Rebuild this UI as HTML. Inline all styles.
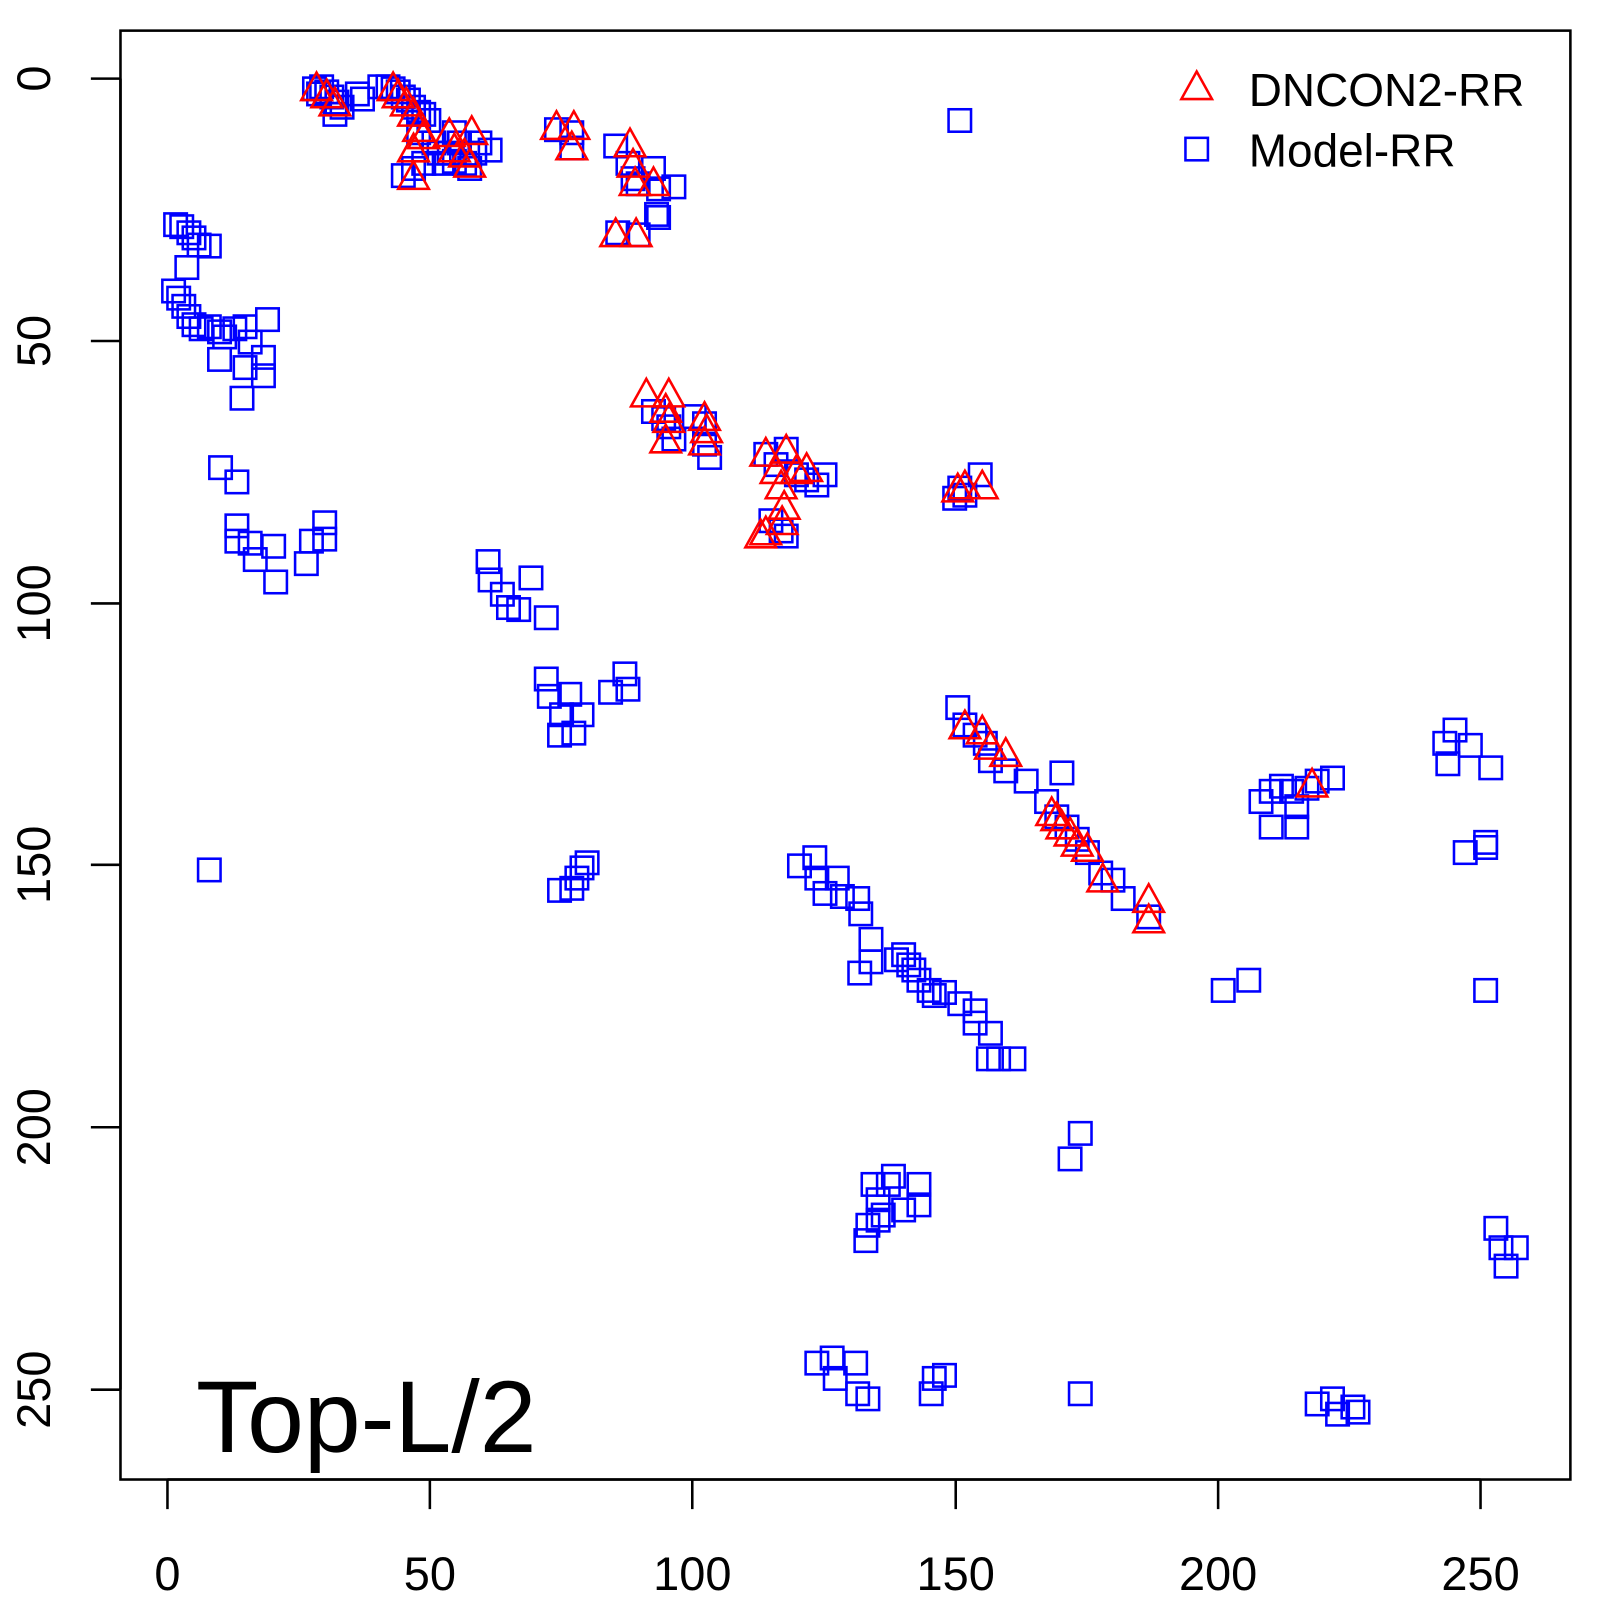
<!DOCTYPE html>
<html><head><meta charset="utf-8"><style>html,body{margin:0;padding:0;background:#fff}svg{display:block}</style></head>
<body>
<svg id="s" width="1600" height="1600" viewBox="0 0 1567 1567" xmlns="http://www.w3.org/2000/svg" font-family="Liberation Sans, sans-serif">
<rect x="118" y="30" width="1420" height="1419" fill="none" stroke="#000" stroke-width="2.5"/>
<g stroke="#000" stroke-width="2.5">
<line x1="164" y1="1449" x2="1450" y2="1449"/>
<line x1="164" y1="1449" x2="164" y2="1478"/><line x1="421" y1="1449" x2="421" y2="1478"/><line x1="678" y1="1449" x2="678" y2="1478"/><line x1="936" y1="1449" x2="936" y2="1478"/><line x1="1193" y1="1449" x2="1193" y2="1478"/><line x1="1450" y1="1449" x2="1450" y2="1478"/>
<line x1="118" y1="77" x2="118" y2="1361"/>
<line x1="118" y1="77" x2="89" y2="77"/><line x1="118" y1="334" x2="89" y2="334"/><line x1="118" y1="591" x2="89" y2="591"/><line x1="118" y1="847" x2="89" y2="847"/><line x1="118" y1="1104" x2="89" y2="1104"/><line x1="118" y1="1361" x2="89" y2="1361"/>
</g>
<g font-size="46" text-anchor="middle" fill="#000">
<text x="164" y="1557">0</text><text x="421" y="1557">50</text><text x="678" y="1557">100</text><text x="936" y="1557">150</text><text x="1193" y="1557">200</text><text x="1450" y="1557">250</text>
<text transform="translate(49,77) rotate(-90)">0</text>
<text transform="translate(49,334) rotate(-90)">50</text>
<text transform="translate(49,591) rotate(-90)">100</text>
<text transform="translate(49,847) rotate(-90)">150</text>
<text transform="translate(49,1104) rotate(-90)">200</text>
<text transform="translate(49,1361) rotate(-90)">250</text>
</g>
<text x="192" y="1422" font-size="100">Top-L/2</text>
<text x="1223" y="104" font-size="45">DNCON2-RR</text>
<text x="1223" y="163" font-size="45">Model-RR</text>
<polygon points="1172,70 1187,97 1157,97" fill="none" stroke="#f00" stroke-width="2.5"/>
<rect x="1161" y="135" width="22" height="22" fill="none" stroke="#00f" stroke-width="2.5"/>
<g id="sq" fill="none" stroke="#00f" stroke-width="2.5"></g>
<g id="tr" fill="none" stroke="#f00" stroke-width="2.5"></g>
</svg>
<script>
var S=[[308,87],[315,85],[320,90],[325,95],[330,100],[328,112],[335,105],[312,92],
[355,97],[350,92],[372,85],[380,85],[385,87],[390,90],[395,95],[400,98],[405,105],[410,110],[395,172],[415,112],[420,118],[410,130],[405,165],[425,140],[430,150],[435,160],[440,150],[445,130],[450,140],[455,160],[460,165],[465,150],[470,140],[480,147],[445,158],[415,160],
[545,127],[560,130],[560,145],
[603,143],[615,160],[620,175],[625,180],[640,165],[645,185],[660,183],[643,210],[645,213],[605,228],[625,230],
[172,220],[178,222],[185,228],[190,233],[195,240],[205,241],[183,262],[170,285],[175,292],[180,300],[185,310],[190,318],[197,322],[205,320],[215,325],[215,352],[220,330],[230,322],[240,320],[245,335],[240,360],[237,390],[258,350],[258,368],[262,313],
[216,458],[232,472],[232,515],[232,530],[245,532],[250,548],[268,535],[270,570],[300,552],[305,530],[318,512],[318,528],
[478,550],[480,568],[492,582],[498,595],[508,597],[520,566],[535,605],
[535,665],[538,682],[550,700],[558,680],[548,720],[562,718],[570,700],[598,678],[612,660],[615,675],
[205,852],
[548,872],[560,870],[565,860],[570,850],[575,845],
[783,848],[798,840],[800,860],[808,875],[820,860],[825,878],[840,880],[843,895],[853,920],[853,942],[842,953],[878,940],[885,935],[890,945],[895,950],[900,960],[910,970],[915,975],[925,972],[940,983],[955,990],[955,1002],[970,1012],[968,1037],[978,1037],[993,1037],
[640,403],[650,410],[655,418],[660,430],[680,408],[690,415],[695,448],[690,435],
[750,445],[760,455],[770,440],[780,465],[790,470],[800,475],[808,465],[755,510],[765,520],[770,525],
[935,488],[940,478],[945,485],[960,465],[940,118],
[938,693],[945,710],[955,720],[965,728],[970,745],[985,755],[1005,765],[1040,757],[1025,785],[1035,800],[1045,810],[1055,822],[1065,835],[1078,855],[1090,862],[1100,880],[1125,898],
[1235,785],[1245,775],[1255,770],[1265,775],[1270,790],[1280,772],[1290,765],[1305,762],[1245,810],[1270,810],
[1415,728],[1425,715],[1440,730],[1460,752],[1418,748],
[1435,835],[1455,825],[1455,830],
[1198,970],[1223,960],[1455,970],
[1048,1135],[1058,1110],
[855,1160],[860,1175],[865,1190],[870,1160],[875,1152],[885,1185],[900,1160],[900,1180],[850,1200],[848,1215],[860,1195],
[1465,1203],[1470,1222],[1475,1240],[1485,1222],
[800,1335],[815,1330],[818,1350],[838,1335],[840,1365],[850,1370],[912,1365],[915,1350],[925,1347],[1058,1365],
[1290,1375],[1305,1370],[1310,1385],[1325,1378],[1330,1383]];
var T=[[310,85],[320,92],[328,100],[385,85],[390,92],[398,100],[405,110],[410,125],[405,145],[405,172],[415,132],[440,130],[445,145],[455,150],[460,160],[462,128],[545,123],[562,123],[560,143],[617,140],[620,160],[622,178],[640,178],[603,228],[623,228],[633,385],[655,385],[652,400],[655,410],[652,430],[690,408],[692,420],[690,432],[750,443],[770,440],[760,460],[780,460],[790,458],[765,475],[768,495],[766,510],[750,520],[745,523],[938,478],[945,475],[962,475],[945,710],[962,715],[970,730],[985,737],[1030,795],[1035,800],[1040,808],[1048,815],[1055,825],[1065,830],[1080,860],[1125,880],[1125,900],[1285,767]];
var ns="http://www.w3.org/2000/svg",g=document.getElementById("sq"),h=document.getElementById("tr");
S.forEach(function(p){var r=document.createElementNS(ns,"rect");r.setAttribute("x",p[0]-11);r.setAttribute("y",p[1]-11);r.setAttribute("width",22);r.setAttribute("height",22);g.appendChild(r);});
T.forEach(function(p){var r=document.createElementNS(ns,"polygon");var x=p[0],y=p[1];r.setAttribute("points",x+","+(y-14)+" "+(x+15)+","+(y+13)+" "+(x-15)+","+(y+13));h.appendChild(r);});
</script>
</body></html>
